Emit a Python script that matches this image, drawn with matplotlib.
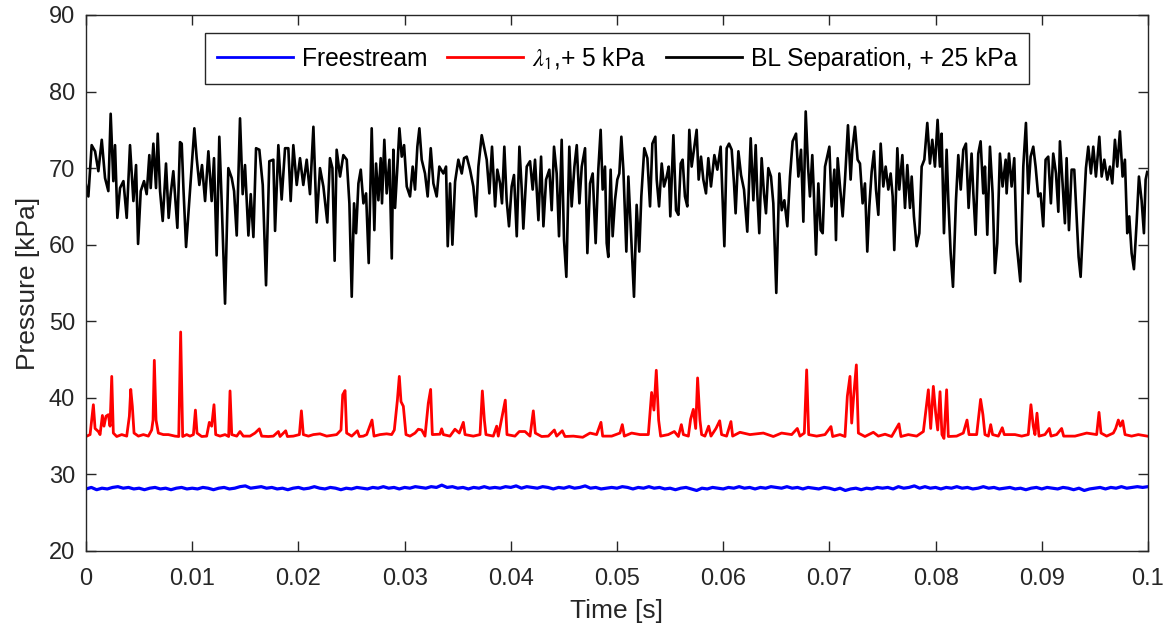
import numpy as np
import matplotlib
matplotlib.use('Agg')
import matplotlib.pyplot as plt
from matplotlib.ticker import FuncFormatter

# time [ms], pressure [kPa] -- BL separation (offset +25 kPa already applied)
bl_separation = [
    (0.00, 67.8), (0.22, 66.3), (0.53, 73.0), (0.85, 72.2), (1.16, 69.6), (1.48, 73.7), (1.79, 68.7),
    (2.10, 67.0), (2.32, 77.1), (2.57, 68.3), (2.73, 73.0), (2.95, 63.5), (3.20, 67.4), (3.52, 68.3),
    (3.83, 63.5), (4.14, 73.0), (4.46, 65.7), (4.71, 70.4), (4.90, 60.1), (5.15, 67.0), (5.46, 68.3),
    (5.71, 66.6), (5.96, 71.7), (6.09, 67.4), (6.34, 73.2), (6.59, 67.4), (6.75, 74.5), (6.97, 67.0),
    (7.22, 63.1), (7.53, 70.6), (7.78, 63.5), (7.97, 66.6), (8.22, 69.6), (8.60, 62.2), (8.85, 73.4),
    (9.01, 73.2), (9.17, 67.4), (9.42, 59.7), (9.79, 67.0), (10.20, 75.2), (10.42, 71.3), (10.67, 67.8),
    (10.92, 70.4), (11.21, 65.7), (11.52, 72.2), (11.83, 65.7), (12.05, 71.3), (12.30, 58.6), (12.55, 74.1),
    (12.77, 65.7), (13.09, 52.3), (13.40, 70.0), (13.72, 68.7), (13.94, 67.0), (14.19, 61.2), (14.50, 76.5),
    (14.75, 66.6), (14.97, 70.4), (15.29, 61.2), (15.51, 66.6), (15.76, 61.0), (16.01, 72.6), (16.32, 72.4),
    (16.64, 67.8), (16.95, 54.7), (17.26, 70.9), (17.64, 71.1), (17.80, 61.8), (18.11, 73.0), (18.42, 65.9),
    (18.74, 72.6), (19.05, 72.6), (19.27, 65.7), (19.52, 73.0), (19.84, 67.8), (20.15, 71.3), (20.46, 67.8),
    (20.78, 71.1), (21.09, 66.6), (21.41, 75.4), (21.72, 62.9), (22.03, 70.0), (22.35, 67.6), (22.72, 62.9),
    (22.97, 71.3), (23.20, 70.0), (23.41, 57.9), (23.60, 72.4),
    (23.92, 68.9), (24.23, 71.7), (24.55, 71.1), (24.80, 65.4), (25.02, 53.2), (25.24, 65.4), (25.43, 61.5),
    (25.65, 68.0), (25.87, 69.8), (26.12, 65.4), (26.37, 66.7), (26.62, 57.6), (26.90, 75.2), (27.15, 61.9),
    (27.31, 70.6), (27.53, 65.8), (27.75, 71.3), (27.87, 65.4), (28.09, 73.7), (28.31, 66.7), (28.57, 71.1),
    (28.79, 58.2), (28.94, 72.4), (29.10, 64.8), (29.32, 70.2), (29.51, 75.2), (29.73, 71.5), (29.95, 73.0),
    (30.20, 67.6), (30.51, 66.3), (30.76, 70.2), (30.98, 67.2), (31.20, 72.8), (31.39, 75.2), (31.61, 71.1),
    (31.92, 69.3), (32.17, 66.3), (32.46, 72.6), (32.71, 68.0), (33.02, 66.3), (33.27, 70.2), (33.65, 69.3),
    (33.90, 70.2), (34.06, 59.8), (34.28, 68.0), (34.50, 60.0), (34.75, 68.2), (35.06, 71.1), (35.38, 69.3),
    (35.60, 71.3), (35.85, 71.5), (36.16, 69.8), (36.47, 67.6), (36.73, 63.7), (36.95, 70.2), (37.26, 74.3),
    (37.48, 72.8), (37.73, 71.1), (37.98, 66.7), (38.23, 72.8), (38.52, 65.0), (38.73, 69.8), (38.99, 68.0),
    (39.17, 65.4), (39.39, 72.8), (39.61, 65.8), (39.83, 62.4), (40.08, 67.6), (40.30, 69.1), (40.56, 61.1),
    (40.81, 72.8), (41.03, 67.2), (41.18, 62.1), (41.50, 70.2), (41.81, 70.9), (42.06, 67.2), (42.28, 71.1),
    (42.60, 63.2), (42.85, 71.5), (43.07, 62.4), (43.32, 68.5), (43.63, 69.8), (43.85, 64.5), (44.07, 72.8),
    (44.32, 69.3), (44.54, 61.1), (44.79, 73.7), (45.01, 60.6), (45.23, 55.8), (45.51, 72.8), (45.73, 65.0),
    (45.99, 70.2), (46.21, 73.0), (46.46, 65.4), (46.68, 70.2), (46.99, 72.6), (47.21, 58.9), (47.46, 68.0),
    (47.71, 69.3), (47.99, 60.2), (48.24, 69.8), (48.46, 75.0),
    (48.65, 67.2), (48.87, 70.2), (49.03, 60.2), (49.18, 58.4), (49.40, 69.8), (49.59, 61.1), (49.81, 65.8),
    (50.03, 68.5), (50.22, 69.3), (50.41, 74.1), (50.60, 69.8), (50.88, 59.1), (51.07, 68.9), (51.32, 61.5),
    (51.60, 53.2), (51.85, 65.2), (52.10, 59.1), (52.29, 66.3), (52.57, 72.6), (52.86, 71.3), (53.11, 65.0),
    (53.33, 73.2), (53.61, 74.1), (53.74, 68.5), (53.96, 65.0), (54.21, 70.6), (54.43, 67.6), (54.68, 68.9),
    (54.87, 70.2), (55.02, 63.7), (55.31, 74.3), (55.56, 64.5), (55.78, 63.9), (56.00, 70.6), (56.18, 71.1),
    (56.40, 66.3), (56.62, 65.0), (56.81, 75.0), (57.03, 70.2), (57.25, 72.4), (57.50, 75.0), (57.69, 68.5),
    (57.91, 71.5), (58.13, 68.5), (58.38, 66.7), (58.60, 71.3), (58.85, 67.6), (59.17, 71.7), (59.45, 69.8),
    (59.76, 72.8), (60.11, 59.8), (60.33, 72.6), (60.55, 73.2), (60.80, 72.4), (61.02, 68.0), (61.17, 64.1),
    (61.43, 72.2), (61.68, 69.1), (61.96, 67.2), (62.27, 61.7), (62.59, 73.9), (62.84, 65.8), (63.06, 73.0),
    (63.21, 66.7), (63.40, 61.5), (63.62, 71.3), (63.84, 66.7), (64.03, 64.1), (64.25, 70.0), (64.50, 68.9),
    (64.72, 65.4), (65.00, 53.7), (65.29, 69.3), (65.51, 64.5), (65.76, 65.8), (66.04, 62.4), (66.29, 68.9),
    (66.54, 73.5), (66.86, 74.5), (67.08, 68.9), (67.33, 72.4), (67.55, 63.0), (67.77, 77.4), (67.99, 70.2),
    (68.17, 66.3), (68.39, 71.7), (68.55, 66.3), (68.74, 58.7), (68.96, 68.0), (69.18, 61.9), (69.37, 61.5),
    (69.59, 70.2), (70.00, 72.8), (70.21, 65.0), (70.47, 69.8), (70.62, 60.6), (70.78, 71.3), (71.00, 67.6),
    (71.25, 63.7), (71.47, 68.5), (71.75, 75.6), (72.00, 68.5), (72.16, 72.4), (72.41, 75.4), (72.66, 71.1),
    (72.88, 70.6), (73.13, 65.4), (73.35, 68.0), (73.57, 59.1), (73.76, 65.0), (73.98, 69.5), (74.20, 72.2),
    (74.39, 67.2), (74.61, 63.9), (74.83, 73.2), (75.08, 67.6), (75.30, 70.2), (75.55, 67.2), (75.77, 69.3),
    (75.96, 66.3), (76.11, 59.3), (76.40, 72.6), (76.58, 67.2), (76.87, 71.7), (77.12, 64.8), (77.34, 70.4),
    (77.59, 64.8), (77.75, 68.9), (77.96, 63.7), (78.22, 59.8), (78.47, 61.5), (78.69, 70.2), (78.94, 71.1),
    (79.22, 75.9), (79.47, 70.6), (79.69, 73.7), (79.94, 70.2), (80.19, 76.3), (80.41, 70.2), (80.57, 74.5),
    (80.79, 61.5), (81.04, 72.4), (81.20, 65.8), (81.42, 58.9), (81.64, 54.5), (81.92, 65.8), (82.14, 71.7),
    (82.37, 67.2), (82.61, 72.4), (82.86, 73.2), (83.11, 64.8), (83.39, 71.9), (83.55, 66.9), (83.77, 61.3),
    (84.02, 71.9), (84.24, 73.5), (84.49, 66.7), (84.65, 70.2), (84.87, 61.3), (85.12, 72.8), (85.37, 66.7),
    (85.59, 56.3), (85.81, 60.2), (86.06, 71.9), (86.31, 67.6), (86.60, 71.1), (86.69, 66.7), (86.91, 71.9),
    (87.16, 67.6), (87.41, 71.3), (87.63, 60.2), (87.98, 55.2), (88.26, 70.2), (88.51, 75.9), (88.73, 66.7),
    (88.95, 71.5), (89.20, 72.8), (89.42, 70.2), (89.67, 66.3), (89.89, 66.7), (90.14, 62.4), (90.36, 71.1),
    (90.61, 71.5), (90.86, 65.4), (91.08, 71.9), (91.34, 69.3), (91.56, 64.3), (91.71, 73.5), (91.96, 68.0),
    (92.18, 62.8), (92.34, 71.3), (92.56, 61.9), (92.81, 69.8), (93.06, 69.8), (93.28, 63.7), (93.47, 58.4),
    (93.66, 55.8), (93.91, 63.2), (94.16, 70.0), (94.38, 72.8), (94.63, 69.3), (94.85, 72.8), (95.10, 68.9),
    (95.42, 74.1), (95.64, 68.9), (95.89, 71.1), (96.17, 68.5), (96.42, 70.2), (96.64, 68.0), (96.89, 73.7),
    (97.11, 70.2), (97.36, 74.8), (97.61, 68.9), (97.83, 71.1), (98.05, 61.5), (98.24, 63.7), (98.46, 58.9),
    (98.68, 56.8), (98.93, 62.8), (99.15, 68.9), (99.40, 65.8), (99.62, 61.5), (99.78, 68.5), (99.93, 69.5),
]

# time [ms], pressure [kPa] -- lambda_1 sensor (offset +5 kPa already applied)
lambda1 = [
    (0.00, 34.95), (0.38, 35.2), (0.69, 39.1), (0.85, 36.0), (1.16, 35.6), (1.32, 35.2), (1.54, 37.7),
    (1.69, 36.3), (1.88, 37.6), (2.10, 37.8), (2.26, 36.3), (2.42, 42.8), (2.57, 35.4), (2.89, 34.95),
    (3.36, 35.2), (3.83, 35.0), (4.08, 37.6), (4.21, 41.1), (4.36, 38.9), (4.52, 35.4), (4.93, 35.0),
    (5.40, 35.2), (5.87, 35.0), (6.18, 35.8), (6.31, 37.1), (6.43, 44.9), (6.59, 37.1), (6.81, 35.4),
    (7.28, 35.2), (7.75, 35.2), (8.38, 35.0), (8.73, 34.95), (8.91, 48.6), (9.10, 34.95), (9.48, 35.2),
    (9.79, 35.0), (10.11, 35.2), (10.30, 38.4), (10.45, 35.4), (10.89, 34.95), (11.36, 35.0), (11.61, 36.8),
    (11.83, 36.3), (12.05, 39.1), (12.21, 35.2), (12.62, 35.0), (13.09, 35.2), (13.43, 34.95), (13.56, 40.9),
    (13.72, 35.2), (14.19, 35.0), (14.50, 35.6), (14.81, 35.0), (15.44, 35.0), (15.91, 35.4), (16.32, 35.95),
    (16.54, 35.0), (17.17, 34.95), (17.64, 35.0), (18.11, 35.6), (18.27, 34.95), (18.80, 35.7), (18.96, 34.95),
    (19.52, 35.0), (20.09, 35.2), (20.28, 38.3), (20.46, 35.2), (20.94, 35.0), (21.41, 35.2), (22.03, 35.3),
    (22.66, 35.0), (23.60, 35.2), (24.01, 35.8), (24.17, 40.4), (24.39, 40.95), (24.54, 35.4), (25.02, 35.0),
    (25.55, 35.7), (25.74, 34.95), (26.11, 35.0), (26.43, 35.2), (26.93, 37.1), (27.12, 35.0), (27.68, 35.2),
    (28.31, 35.3), (28.78, 35.2), (29.03, 35.8), (29.32, 39.7), (29.50, 42.8), (29.66, 39.5), (29.88, 38.9),
    (30.13, 35.2), (30.51, 35.0), (30.98, 35.4), (31.29, 35.9), (31.61, 35.8), (31.92, 35.0), (32.23, 39.3),
    (32.45, 41.1), (32.61, 35.2), (33.33, 35.25), (33.49, 35.95), (33.65, 35.2), (34.27, 35.0), (34.74, 35.9),
    (35.15, 35.4), (35.53, 36.8), (35.69, 35.2), (36.47, 35.0), (37.10, 35.2), (37.32, 40.9), (37.51, 37.1),
    (37.66, 35.2), (38.35, 35.0), (38.67, 36.3), (38.82, 35.0), (39.48, 39.7), (39.64, 35.2), (40.39, 35.0),
    (40.80, 35.6), (41.34, 35.6), (41.81, 35.0), (42.12, 38.3), (42.31, 35.4), (42.90, 34.95), (43.53, 35.0),
    (44.10, 35.8), (44.32, 35.0), (44.85, 35.7), (45.10, 34.95), (45.89, 35.0), (46.77, 34.85), (47.46, 35.4),
    (48.08, 35.2), (48.49, 36.8), (48.65, 35.0), (49.50, 35.0), (50.28, 35.4), (50.50, 36.5), (50.69, 35.0),
    (51.38, 35.4), (52.17, 35.2), (52.95, 35.2), (53.26, 40.7), (53.48, 38.4), (53.70, 43.6), (53.92, 37.1),
    (54.11, 35.0), (54.83, 35.2), (55.40, 35.6), (55.78, 34.95), (56.06, 36.5), (56.25, 35.2), (56.72, 35.0),
    (56.93, 37.2), (57.19, 38.5), (57.41, 36.0), (57.59, 42.6), (57.81, 37.1), (57.97, 35.2), (58.28, 35.0),
    (58.63, 36.3), (58.85, 35.0), (59.32, 36.0), (59.67, 37.0), (59.85, 35.2), (60.32, 35.0), (60.73, 36.9),
    (60.89, 35.0), (61.58, 35.5), (62.52, 35.2), (63.78, 35.4), (64.72, 34.95), (65.50, 35.4), (66.45, 35.2),
    (66.98, 36.0), (67.23, 35.0), (67.64, 35.4), (67.86, 43.65), (68.05, 35.2), (68.80, 35.0), (69.59, 35.2),
    (70.15, 36.25), (70.31, 34.95), (71.00, 35.2), (71.47, 34.95), (71.69, 40.2), (71.94, 42.8), (72.10, 36.7),
    (72.29, 40.3), (72.54, 44.3), (72.73, 35.4), (73.35, 34.95), (74.14, 35.5), (74.61, 35.0), (75.24, 35.25),
    (75.86, 34.95), (76.55, 36.6), (76.74, 34.95), (77.43, 35.2), (78.22, 35.0), (78.85, 35.6), (79.32, 41.05),
    (79.54, 36.0), (79.79, 41.5), (80.01, 38.0), (80.20, 35.8), (80.42, 40.8), (80.60, 35.2), (80.79, 34.7),
    (81.04, 41.05), (81.20, 34.95), (81.98, 35.0), (82.61, 35.4), (82.96, 37.1), (83.15, 35.2), (83.87, 35.2),
    (84.24, 39.8), (84.46, 37.8), (84.65, 35.2), (84.97, 35.0), (85.19, 36.5), (85.37, 35.2), (85.91, 35.0),
    (86.28, 36.1), (86.47, 35.2), (87.48, 35.2), (88.11, 35.0), (88.73, 35.2), (88.98, 39.1), (89.20, 36.3),
    (89.36, 35.2), (89.55, 38.0), (89.74, 35.0), (90.30, 35.2), (90.71, 36.0), (90.87, 35.0), (91.40, 35.2),
    (91.87, 36.0), (92.06, 35.0), (93.13, 35.0), (94.23, 35.4), (95.17, 35.2), (95.39, 38.1), (95.58, 35.4),
    (96.11, 35.0), (96.74, 35.4), (96.96, 36.0), (97.21, 37.1), (97.40, 36.3), (97.62, 37.0), (97.84, 35.2),
    (98.46, 35.0), (99.09, 35.2), (99.93, 35.0),
]

# freestream pressure [kPa], one value every 0.5 ms from 0 to 100 ms
freestream = [
    28.1, 28.3, 28.0, 28.2, 28.1, 28.3, 28.4, 28.2, 28.3, 28.1, 28.2, 28.0, 28.2, 28.3, 28.1, 28.2, 28.0, 28.2, 28.3, 28.1,
    28.2, 28.1, 28.3, 28.2, 28.0, 28.2, 28.3, 28.1, 28.2, 28.4, 28.5, 28.2, 28.3, 28.4, 28.2, 28.3, 28.1, 28.2, 28.0, 28.2,
    28.3, 28.1, 28.2, 28.4, 28.2, 28.1, 28.3, 28.2, 28.0, 28.2, 28.1, 28.3, 28.2, 28.1, 28.3, 28.2, 28.4, 28.2, 28.3, 28.1,
    28.3, 28.2, 28.4, 28.3, 28.2, 28.4, 28.3, 28.6, 28.3, 28.4, 28.2, 28.3, 28.1, 28.3, 28.2, 28.4, 28.2, 28.3, 28.2, 28.4,
    28.3, 28.5, 28.2, 28.4, 28.3, 28.2, 28.4, 28.3, 28.1, 28.3, 28.2, 28.4, 28.2, 28.3, 28.5, 28.2, 28.3, 28.1, 28.2, 28.3,
    28.2, 28.4, 28.3, 28.1, 28.3, 28.2, 28.4, 28.2, 28.3, 28.1, 28.2, 28.0, 28.2, 28.3, 28.1, 27.9, 28.2, 28.1, 28.3, 28.2,
    28.1, 28.3, 28.2, 28.4, 28.2, 28.3, 28.1, 28.3, 28.2, 28.4, 28.3, 28.2, 28.4, 28.2, 28.3, 28.1, 28.3, 28.2, 28.1, 28.3,
    28.2, 28.0, 28.2, 27.9, 28.1, 28.2, 28.0, 28.2, 28.1, 28.3, 28.2, 28.3, 28.1, 28.4, 28.2, 28.3, 28.5, 28.2, 28.4, 28.2,
    28.3, 28.1, 28.3, 28.2, 28.4, 28.2, 28.3, 28.1, 28.2, 28.4, 28.2, 28.3, 28.1, 28.2, 28.3, 28.1, 28.2, 28.0, 28.2, 28.3,
    28.1, 28.3, 28.2, 28.1, 28.3, 28.2, 28.0, 28.2, 27.9, 28.1, 28.2, 28.3, 28.1, 28.3, 28.2, 28.4, 28.2, 28.3, 28.4, 28.3,
    28.4,
]

labels = ['Freestream', r'$\lambda_{\mathsf{1}}$,+ 5 kPa', 'BL Separation, + 25 kPa']
colors = ['#0000ff', '#ff0000', '#000000']
x_ticks = [0, 0.01, 0.02, 0.03, 0.04, 0.05, 0.06, 0.07, 0.08, 0.09, 0.1]
y_ticks = [20, 30, 40, 50, 60, 70, 80, 90]

plt.rcParams['font.family'] = ['Liberation Sans', 'DejaVu Sans']
plt.rcParams['mathtext.fontset'] = 'stix'
axis_color = '#262626'

t_free = np.arange(len(freestream)) * 0.5e-3
t_lam, p_lam = np.array(lambda1).T
t_bl, p_bl = np.array(bl_separation).T

fig = plt.figure(figsize=(11.69, 6.32), dpi=100)
ax = fig.add_axes([0.0736, 0.1282, 0.9084, 0.8481])

ax.plot(t_free, freestream, color=colors[0], linewidth=2.3, label=labels[0])
ax.plot(t_lam * 1e-3, p_lam, color=colors[1], linewidth=2.0, label=labels[1])
ax.plot(t_bl * 1e-3, p_bl, color=colors[2], linewidth=1.9, label=labels[2])

ax.set_xlim(0, 0.1)
ax.set_ylim(20, 90)
ax.set_xticks(x_ticks)
ax.set_yticks(y_ticks)
ax.xaxis.set_major_formatter(FuncFormatter(lambda v, pos: f'{v:g}'))
ax.tick_params(direction='in', length=7.5, width=1.0, top=True, right=True,
               labelsize=17, colors=axis_color)
ax.tick_params(axis='x', pad=12)
ax.tick_params(axis='y', pad=8)
for spine in ax.spines.values():
    spine.set_color(axis_color)
    spine.set_linewidth(1.0)

ax.set_xlabel('Time [s]', fontsize=19, color=axis_color, labelpad=7)
ax.set_ylabel('Pressure [kPa]', fontsize=19, color=axis_color, labelpad=6)

leg = ax.legend(loc='upper center', bbox_to_anchor=(0.5, 0.966), ncol=3, fontsize=17.7,
                frameon=True, fancybox=False, edgecolor=axis_color, framealpha=1,
                handlelength=3.1, handletextpad=0.35, columnspacing=0.8,
                borderpad=0.5, borderaxespad=0)
leg.get_frame().set_linewidth(1.0)
for line in leg.get_lines():
    line.set_linewidth(2.0)

fig.savefig('out.png', dpi=100)
